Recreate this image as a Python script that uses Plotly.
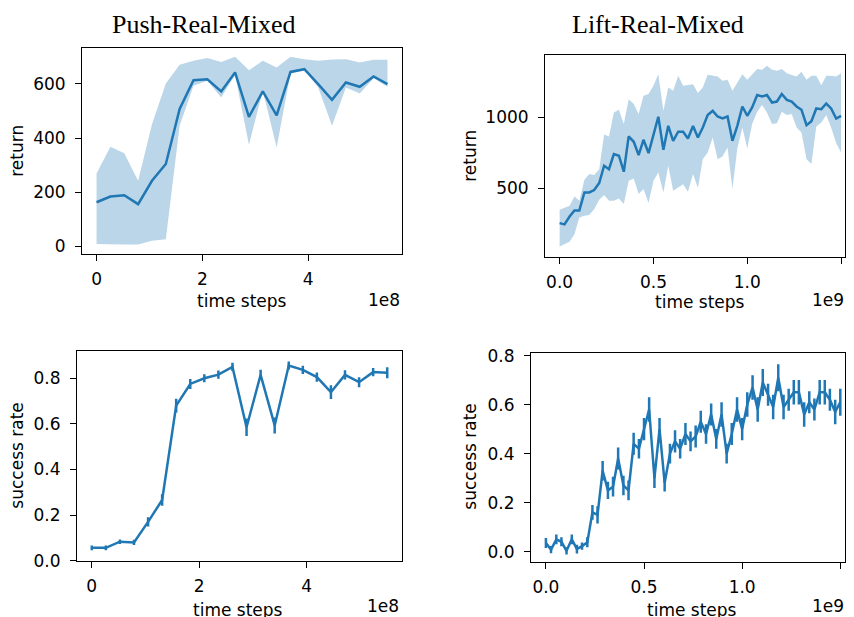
import plotly.graph_objects as go

# window geometry: 8px page margin on the left; vertical placement calibrated
OFF_X = 8
W, H = 854 - 2 * OFF_X, 622
SY, OY = 0.973, 14.2   # screen_y = SY * figure_y + OY (measured)

# ---------------- data ----------------
# Push-Real-Mixed (x in units of 1e8 time steps)
push_steps = [0.0, 0.262, 0.524, 0.786, 1.048, 1.310, 1.571, 1.833, 2.095, 2.357, 2.619,
              2.881, 3.143, 3.405, 3.667, 3.929, 4.190, 4.452, 4.714, 4.976, 5.238, 5.5]
push_return_mean = [163, 184, 189, 156, 242, 304, 507, 613, 617, 572, 642,
                    478, 572, 484, 644, 654, 599, 541, 605, 589, 627, 599]
push_return_upper = [269, 368, 344, 242, 451, 601, 670, 685, 695, 681, 700,
                     650, 685, 660, 700, 691, 685, 690, 691, 679, 689, 689]
push_return_lower = [9, 7, 7, 7, 21, 26, 445, 593, 611, 550, 633,
                     375, 574, 365, 638, 652, 586, 445, 586, 564, 621, 589]
push_success = [0.056, 0.056, 0.083, 0.080, 0.170, 0.266, 0.680, 0.775, 0.800, 0.816, 0.850,
                0.585, 0.815, 0.593, 0.856, 0.837, 0.805, 0.739, 0.815, 0.783, 0.827, 0.824]
push_success_err = [0.010, 0.010, 0.010, 0.012, 0.020, 0.025, 0.030, 0.022, 0.018, 0.018, 0.018,
                    0.038, 0.022, 0.035, 0.018, 0.018, 0.020, 0.030, 0.020, 0.022, 0.018, 0.024]

# Lift-Real-Mixed (x in units of 1e9 time steps)
lift_steps = [0.000, 0.026, 0.053, 0.079, 0.105, 0.132, 0.158, 0.184, 0.211, 0.237,
              0.263, 0.289, 0.316, 0.342, 0.368, 0.395, 0.421, 0.447, 0.474, 0.500,
              0.526, 0.553, 0.579, 0.605, 0.632, 0.658, 0.684, 0.711, 0.737, 0.763,
              0.789, 0.816, 0.842, 0.868, 0.895, 0.921, 0.947, 0.974, 1.000, 1.026,
              1.053, 1.079, 1.105, 1.132, 1.158, 1.184, 1.211, 1.237, 1.263, 1.289,
              1.316, 1.342, 1.368, 1.395, 1.421, 1.447, 1.474, 1.500]
lift_return_mean = [252, 243, 299, 342, 342, 469, 469, 486, 536, 658,
                    634, 741, 729, 616, 866, 828, 734, 842, 748, 878,
                    1005, 771, 941, 835, 899, 899, 851, 940, 858, 929,
                    1017, 1047, 1007, 993, 1007, 835, 941, 1078, 1012, 1071,
                    1159, 1149, 1159, 1106, 1113, 1166, 1125, 1113, 1078, 1055,
                    946, 974, 1064, 1059, 1099, 1064, 993, 1012]
lift_return_upper = [347, 363, 375, 441, 410, 559, 599, 592, 634, 880,
                     866, 1036, 1055, 953, 1130, 1095, 1024, 1154, 1166, 1224,
                     1307, 1047, 1212, 1189, 1295, 1224, 1229, 1235, 1173, 1212,
                     1302, 1295, 1290, 1260, 1267, 1189, 1248, 1307, 1267, 1307,
                     1343, 1338, 1366, 1338, 1331, 1343, 1314, 1300, 1290, 1324,
                     1267, 1295, 1295, 1229, 1295, 1295, 1290, 1314]
lift_return_lower = [87, 104, 120, 174, 292, 304, 309, 351, 417, 451,
                     410, 410, 427, 387, 552, 568, 458, 493, 394, 552,
                     611, 469, 658, 481, 504, 528, 474, 600, 500, 705,
                     752, 858, 705, 724, 788, 493, 781, 929, 781, 953,
                     1040, 1088, 1036, 953, 960, 1040, 1017, 1024, 929, 894,
                     705, 670, 936, 965, 1017, 929, 819, 752]
lift_success = [0.035, 0.008, 0.050, 0.040, 0.003, 0.050, 0.010, 0.022, 0.038, 0.160,
                0.150, 0.330, 0.250, 0.265, 0.380, 0.270, 0.250, 0.440, 0.420, 0.500,
                0.580, 0.300, 0.500, 0.280, 0.400, 0.450, 0.420, 0.480, 0.450, 0.470,
                0.530, 0.480, 0.560, 0.460, 0.560, 0.400, 0.480, 0.580, 0.500, 0.600,
                0.670, 0.580, 0.690, 0.640, 0.590, 0.710, 0.590, 0.620, 0.650, 0.650,
                0.560, 0.610, 0.580, 0.650, 0.650, 0.620, 0.570, 0.610]
lift_success_err = [0.020, 0.015, 0.020, 0.018, 0.015, 0.020, 0.018, 0.015, 0.020, 0.030,
                    0.035, 0.040, 0.035, 0.040, 0.045, 0.040, 0.040, 0.045, 0.040, 0.045,
                    0.050, 0.040, 0.045, 0.035, 0.040, 0.045, 0.040, 0.045, 0.040, 0.045,
                    0.045, 0.040, 0.045, 0.040, 0.050, 0.040, 0.045, 0.050, 0.045, 0.050,
                    0.050, 0.050, 0.055, 0.045, 0.050, 0.055, 0.050, 0.045, 0.050, 0.050,
                    0.050, 0.045, 0.045, 0.050, 0.050, 0.045, 0.050, 0.055]

col_titles = ["Push-Real-Mixed", "Lift-Real-Mixed"]

# ---------------- style ----------------
C0 = "#1f77b4"
BAND = "rgba(31,119,180,0.3)"
TICKFONT = dict(family="DejaVu Sans", size=17, color="black")
LW = 2.5


def px_x(p):
    return (p - OFF_X) / W


def px_y(p):
    return 1 - ((p - OY) / SY) / H


fig = go.Figure()

# panel boxes (left, top, right, bottom) in window pixels
boxes = {
    "1": (82, 47, 402, 253),
    "2": (545, 54, 845, 256),
    "3": (77, 350, 402, 560),
    "4": (531, 352, 845, 561),
}


def band(xs, lo, hi, ax):
    fig.add_trace(go.Scatter(x=xs, y=lo, mode="lines", line=dict(width=0, color=C0),
                             hoverinfo="skip", showlegend=False, xaxis="x" + ax, yaxis="y" + ax))
    fig.add_trace(go.Scatter(x=xs, y=hi, mode="lines", line=dict(width=0, color=C0),
                             fill="tonexty", fillcolor=BAND, hoverinfo="skip",
                             showlegend=False, xaxis="x" + ax, yaxis="y" + ax))


band(push_steps, push_return_lower, push_return_upper, "1")
fig.add_trace(go.Scatter(x=push_steps, y=push_return_mean, mode="lines",
                         line=dict(color=C0, width=LW), showlegend=False, xaxis="x1", yaxis="y1"))
band(lift_steps, lift_return_lower, lift_return_upper, "2")
fig.add_trace(go.Scatter(x=lift_steps, y=lift_return_mean, mode="lines",
                         line=dict(color=C0, width=LW), showlegend=False, xaxis="x2", yaxis="y2"))
fig.add_trace(go.Scatter(x=push_steps, y=push_success, mode="lines",
                         line=dict(color=C0, width=LW),
                         error_y=dict(type="data", array=push_success_err, color=C0,
                                      thickness=LW, width=0),
                         showlegend=False, xaxis="x3", yaxis="y3"))
fig.add_trace(go.Scatter(x=lift_steps, y=lift_success, mode="lines",
                         line=dict(color=C0, width=LW),
                         error_y=dict(type="data", array=lift_success_err, color=C0,
                                      thickness=LW, width=0),
                         showlegend=False, xaxis="x4", yaxis="y4"))

axis_common = dict(showline=True, mirror=True, linecolor="black", linewidth=1,
                   ticks="outside", ticklen=6, tickwidth=1, tickcolor="black",
                   showgrid=False, zeroline=False, tickfont=TICKFONT)

ranges = {
    "1": dict(x=[-0.275, 5.775], y=[-27, 733], xt=[0, 2, 4], yt=[0, 200, 400, 600], xf="d", yf="d"),
    "2": dict(x=[-0.078, 1.521], y=[14, 1444], xt=[0.0, 0.5, 1.0, 1.5], yt=[500, 1000], xf=".1f", yf="d"),
    "3": dict(x=[-0.275, 5.775], y=[0, 0.921], xt=[0, 2, 4], yt=[0.0, 0.2, 0.4, 0.6, 0.8], xf="d", yf=".1f"),
    "4": dict(x=[-0.076, 1.524], y=[-0.041, 0.812], xt=[0.0, 0.5, 1.0, 1.5], yt=[0.0, 0.2, 0.4, 0.6, 0.8], xf=".1f", yf=".1f"),
}

lay = {}
for k, (l, t, r, b) in boxes.items():
    rg = ranges[k]
    lay["xaxis" + k] = dict(axis_common, domain=[px_x(l), px_x(r)], range=rg["x"],
                           tickvals=rg["xt"], tickformat=rg["xf"], anchor="y" + k,
                           ticklabelstandoff=4)
    lay["yaxis" + k] = dict(axis_common, domain=[px_y(b), px_y(t)], range=rg["y"],
                           tickvals=rg["yt"], tickformat=rg["yf"], anchor="x" + k,
                           ticklabelstandoff=6)

annotations = []


def ann(text, x, y, size=17, family="DejaVu Sans", angle=0, xanchor="center"):
    annotations.append(dict(text=text, x=px_x(x), y=px_y(y), xref="paper", yref="paper",
                            showarrow=False, xanchor=xanchor, yanchor="middle", textangle=angle,
                            font=dict(family=family, size=size, color="black")))


# column titles (as high as the figure allows without clipping the glyphs)
ann(col_titles[0], 203.5, 24, size=26, family="Liberation Serif")
ann(col_titles[1], 658, 24, size=26, family="Liberation Serif")
# y axis titles
ann("return", 17, 150, angle=-90)
ann("return", 470, 155, angle=-90)
ann("success rate", 17, 455, angle=-90)
ann("success rate", 470, 456, angle=-90)
# x axis titles
ann("time steps", 242, 300)
ann("time steps", 700, 301)
ann("time steps", 238, 609)
ann("time steps", 692, 609)
# offset texts
ann("1e8", 402, 299, xanchor="right")
ann("1e9", 846, 299, xanchor="right")
ann("1e8", 401, 605, xanchor="right")
ann("1e9", 846, 605, xanchor="right")

fig.update_layout(width=W, height=H, margin=dict(l=0, r=0, t=0, b=0),
                  paper_bgcolor="white", plot_bgcolor="white",
                  annotations=annotations, **lay)

fig.write_html("out.html")
